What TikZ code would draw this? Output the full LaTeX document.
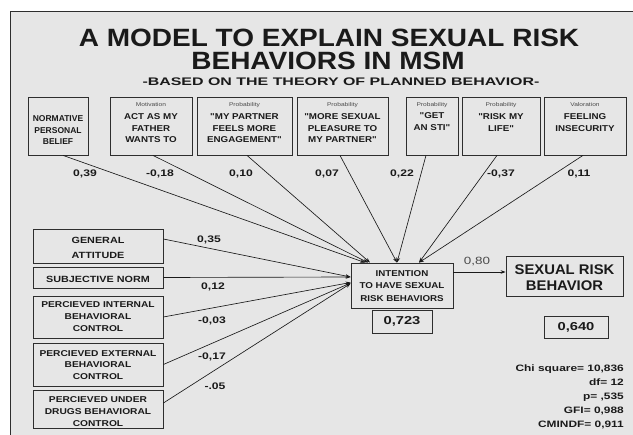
\documentclass[tikz,border=0pt]{standalone}
\usepackage{fontspec}
\setmainfont{Liberation Sans}
\newfontfamily\titlefont[FakeStretch=1.12]{Liberation Sans}
\newfontfamily\boxfont[FakeStretch=1.15]{Liberation Sans}
\newfontfamily\leftfont[FakeStretch=1.2]{Liberation Sans}
\newfontfamily\numfont[FakeStretch=1.28]{Liberation Sans}
\newfontfamily\subfont[FakeStretch=1.45]{Liberation Sans}
\newfontfamily\riskfont[FakeStretch=1.06]{Liberation Sans}
\usetikzlibrary{arrows.meta}
\definecolor{panel}{HTML}{E6E6E6}
\definecolor{ink}{HTML}{1A1A1A}
\definecolor{edge}{HTML}{2E2E2E}
\definecolor{softink}{HTML}{4A4A4A}
\begin{document}
\begin{tikzpicture}[x=1pt,y=-1pt,
  box/.style={draw=edge, line width=0.8pt, inner sep=0pt},
  toptext/.style={text=ink, align=center, inner sep=0pt,
    font=\boxfont\bfseries\fontsize{8.5}{11.5}\selectfont},
  tag/.style={text=softink, inner sep=0pt,
    font=\leftfont\fontsize{5.5}{6}\selectfont},
  lefttext/.style={text=ink, align=center, inner sep=0pt,
    font=\leftfont\bfseries\fontsize{8.5}{11.7}\selectfont},
  coef/.style={text=ink, inner sep=0pt,
    font=\numfont\bfseries\fontsize{9.5}{11}\selectfont},
  stat/.style={text=ink, inner sep=0pt, anchor=base east,
    font=\numfont\bfseries\fontsize{9.3}{11}\selectfont},
  heading/.style={text=ink, anchor=base, inner sep=0pt,
    font=\titlefont\bfseries\fontsize{25}{27}\selectfont},
  conn/.style={draw=ink, line width=0.65pt,
    -{Stealth[length=5pt,width=3.6pt]}}
]
\useasboundingbox (0,0) rectangle (633,435);
\clip (0,0) rectangle (633,435);
\fill[white] (0,0) rectangle (633,435);

% panel
\draw[fill=panel, draw=edge, line width=1pt] (10,12) rectangle (660,460);

% heading
\node[heading] (title1) at (329,47) {A MODEL TO EXPLAIN SEXUAL RISK};
\node[heading] (title2) at (328,70) {BEHAVIORS IN MSM};
\node[text=ink, anchor=base, inner sep=0pt,
  font=\subfont\bfseries\fontsize{11}{12}\selectfont] (subtitle) at (341,86)
  {-BASED ON THE THEORY OF PLANNED BEHAVIOR-};

% belief boxes along the top
\node[box, minimum width=60pt, minimum height=58pt] (b1) at (58,126) {};
\node[box, minimum width=82pt, minimum height=58pt] (b2) at (151,126) {};
\node[box, minimum width=95pt, minimum height=58pt] (b3) at (244.5,126) {};
\node[box, minimum width=91pt, minimum height=58pt] (b4) at (342.5,126) {};
\node[box, minimum width=52pt, minimum height=58pt] (b5) at (432,126) {};
\node[box, minimum width=78pt, minimum height=58pt] (b6) at (501,126) {};
\node[box, minimum width=82pt, minimum height=58pt] (b7) at (585,126) {};

\node[toptext, font=\bfseries\fontsize{8.5}{11.5}\selectfont] (b1t) at (58,130.5)
  {NORMATIVE\\PERSONAL\\BELIEF};
\node[tag] (b2s) at (151,105) {Motivation};
\node[toptext] (b2t) at (151,128.5) {ACT AS MY\\FATHER\\WANTS TO};
\node[tag] (b3s) at (244.5,105) {Probability};
\node[toptext] (b3t) at (244.5,128.5) {"MY PARTNER\\FEELS MORE\\ENGAGEMENT"};
\node[tag] (b4s) at (342.5,105) {Probability};
\node[toptext] (b4t) at (342.5,128.5) {"MORE SEXUAL\\PLEASURE TO\\MY PARTNER"};
\node[tag] (b5s) at (432,105) {Probability};
\node[toptext] (b5t) at (432,121.5) {"GET\\AN STI"};
\node[tag] (b6s) at (501,105) {Probability};
\node[toptext] (b6t) at (501,122.5) {"RISK MY\\LIFE"};
\node[tag] (b7s) at (585,105) {Valoration};
\node[toptext] (b7t) at (585,122.5) {FEELING\\INSECURITY};

% weights of the belief paths
\node[coef] (c1) at (85,173.5) {0,39};
\node[coef] (c2) at (160,173.5) {-0,18};
\node[coef] (c3) at (241,173.5) {0,10};
\node[coef] (c4) at (327,173.5) {0,07};
\node[coef] (c5) at (402,173.5) {0,22};
\node[coef] (c6) at (501,173.5) {-0,37};
\node[coef] (c7) at (579,173.5) {0,11};

% predictors on the left
\node[box, minimum width=130pt, minimum height=34pt] (ga) at (98,246) {};
\node[box, minimum width=130pt, minimum height=21pt] (sn) at (98,277.5) {};
\node[box, minimum width=130pt, minimum height=42pt] (pibc) at (98,317) {};
\node[box, minimum width=130pt, minimum height=43pt] (pebc) at (98,364.5) {};
\node[box, minimum width=130pt, minimum height=38pt] (pudbc) at (98,409) {};

\node[lefttext, font=\leftfont\bfseries\fontsize{9}{15}\selectfont] (gat) at (98,247.5)
  {GENERAL\\ATTITUDE};
\node[lefttext, font=\leftfont\bfseries\fontsize{9}{11}\selectfont] (snt) at (98,279)
  {SUBJECTIVE NORM};
\node[lefttext] (pibct) at (98,316.5) {PERCIEVED INTERNAL\\BEHAVIORAL\\CONTROL};
\node[lefttext] (pebct) at (98,365) {PERCIEVED EXTERNAL\\BEHAVIORAL\\CONTROL};
\node[lefttext] (pudbct) at (98,411.5) {PERCIEVED UNDER\\DRUGS BEHAVIORAL\\CONTROL};

\node[coef] (d1) at (209,240) {0,35};
\node[coef] (d2) at (213,287) {0,12};
\node[coef] (d3) at (212,321) {-0,03};
\node[coef] (d4) at (212,357) {-0,17};
\node[coef] (d5) at (215,386) {-.05};

% intention and behaviour
\node[box, minimum width=102pt, minimum height=45pt] (int) at (402,285.5) {};
\node[toptext, font=\boxfont\bfseries\fontsize{8.5}{12.5}\selectfont] (intt) at (402,286)
  {INTENTION\\TO HAVE SEXUAL\\RISK BEHAVIORS};
\node[box, minimum width=60pt, minimum height=23pt,
  font=\numfont\bfseries\fontsize{11.5}{12}\selectfont, text=ink] (r1) at (402,321.5) {0,723};

\node[box, minimum width=117pt, minimum height=40pt] (srb) at (564.5,276) {};
\node[text=ink, align=center, inner sep=0pt,
  font=\riskfont\bfseries\fontsize{14}{16}\selectfont] (srbt) at (564.5,278)
  {SEXUAL RISK\\BEHAVIOR};
\node[box, minimum width=64pt, minimum height=22pt,
  font=\numfont\bfseries\fontsize{11.5}{12}\selectfont, text=ink] (r2) at (576,327) {0,640};

\node[text=softink, inner sep=0pt,
  font=\numfont\fontsize{10.5}{12}\selectfont] (c8) at (477,261.5) {0,80};

% fit indices
\node[stat] (s1) at (624,371.5) {Chi square= 10,836};
\node[stat] (s2) at (624,385.5) {df= 12};
\node[stat] (s3) at (624,399.5) {p= ,535};
\node[stat] (s4) at (624,413.5) {GFI= 0,988};
\node[stat] (s5) at (624,427.5) {CMINDF= 0,911};

% paths from the beliefs
\draw[conn] ([xshift=5pt]b1.south) -- ([xshift=-37pt]int.north);
\draw[conn] ([xshift=2pt]b2.south) -- ([xshift=-34pt]int.north);
\draw[conn] ([xshift=2.5pt]b3.south) -- ([xshift=-32pt]int.north);
\draw[conn] ([xshift=-2.5pt]b4.south) -- ([xshift=-5pt]int.north);
\draw[conn] ([xshift=-6pt]b5.south) -- ([xshift=-5pt]int.north);
\draw[conn] ([xshift=-4pt]b6.south) -- ([xshift=17pt]int.north);
\draw[conn] ([xshift=-2pt]b7.south) -- ([xshift=17pt]int.north);

% paths from the predictors
\draw[conn] ([yshift=7pt]ga.east) -- ([yshift=8.5pt]int.west);
\draw[conn] (sn.east) -- ([yshift=8.5pt]int.west);
\draw[conn] (pibc.east) -- ([yshift=3pt]int.west);
\draw[conn] (pebc.east) -- ([yshift=2.5pt]int.west);
\draw[conn] ([yshift=6pt]pudbc.east) -- ([yshift=2pt]int.west);

% intention to behaviour
\coordinate (io) at ([yshift=13.5pt]int.east);
\draw[conn] (io) -- (io -| srb.west);
\end{tikzpicture}
\end{document}
